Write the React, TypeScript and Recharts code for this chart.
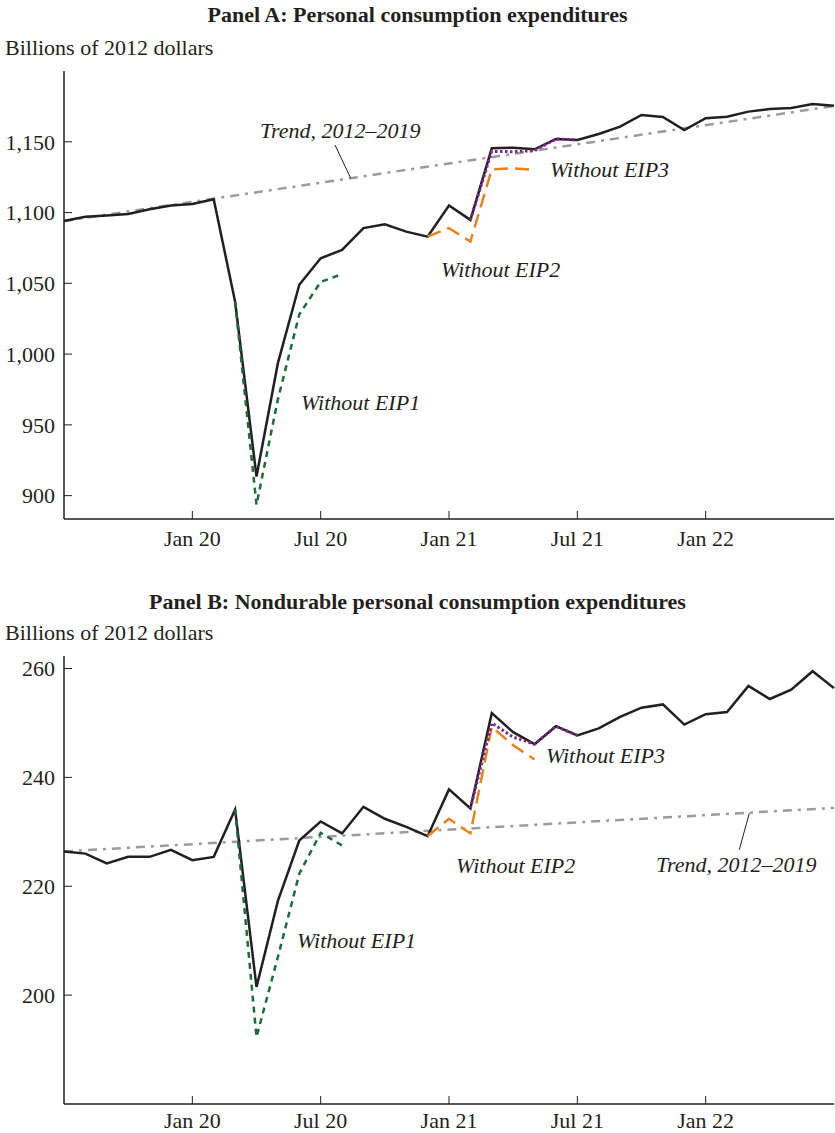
import {
  LineChart,
  Line,
  XAxis,
  YAxis,
  ReferenceLine,
  ReferenceDot,
} from "recharts";

// months run Jul 2019 (0) .. Jul 2022 (36)
const tickMonths = [6, 12, 18, 24, 30];
const tickLabels = ["Jan 20", "Jul 20", "Jan 21", "Jul 21", "Jan 22"];

// Panel A: personal consumption expenditures
const pceActual = [
  1094, 1097, 1098, 1099, 1102.3, 1105, 1106, 1109.4, 1037, 913.5, 993.6, 1049,
  1067.7, 1073.6, 1089, 1091.7, 1086.5, 1083, 1105, 1094.8, 1145.4, 1145.8,
  1144.7, 1152, 1151.3, 1155.5, 1160.7, 1168.9, 1167.5, 1158.3, 1166.6, 1167.7,
  1171.3, 1173.2, 1173.9, 1176.7, 1175.5,
];
const pceNoEip1 = [
  [8, 1037], [9, 893.5], [10, 968], [11, 1028], [12, 1051], [13, 1056.5],
];
const pceNoEip2 = [
  [17, 1083], [18, 1089], [19, 1079.5], [20, 1130.6], [21, 1131.3], [22, 1130],
];
const pceNoEip3 = [
  [19, 1094.8], [20, 1143.2], [21, 1143], [22, 1143.8], [23, 1152], [24, 1151.3],
];
const pceTrend = [
  [0, 1094], [36, 1175.3],
];
const pceTicks = [900, 950, 1000, 1050, 1100, 1150];

// Panel B: nondurable personal consumption expenditures
const ndActual = [
  226.4, 226.0, 224.2, 225.4, 225.4, 226.7, 224.8, 225.4, 234.1, 201.5, 217.3,
  228.4, 231.9, 229.7, 234.6, 232.4, 230.9, 229.2, 237.8, 234.3, 251.8, 248.3,
  246.1, 249.4, 247.7, 249.0, 251.1, 252.8, 253.4, 249.7, 251.6, 252.0, 256.8,
  254.4, 256.1, 259.5, 256.4,
];
const ndNoEip1 = [
  [8, 234.1], [9, 192.3], [10, 207], [11, 222.3], [12, 229.8], [13, 227.5],
];
const ndNoEip2 = [
  [17, 229.2], [18, 232.4], [19, 229.7], [20, 249.3], [21, 245.9], [22, 243.3],
];
const ndNoEip3 = [
  [19, 234.3], [20, 250.0], [21, 247.4], [22, 246.1], [23, 249.4], [24, 247.7],
];
const ndTrend = [
  [0, 226.4], [36, 234.4],
];
const ndTicks = [200, 220, 240, 260];

const FONT = '"Liberation Serif", "Times New Roman", serif';
const INK = "#231f20";

const buildRows = (actual, e1, e2, e3, trend) =>
  actual.map((v, i) => {
    const pick = (arr) => {
      const hit = arr.find((p) => p[0] === i);
      return hit ? hit[1] : null;
    };
    return {
      i,
      actual: v,
      noEip1: pick(e1),
      noEip2: pick(e2),
      noEip3: pick(e3),
      trend: pick(trend),
    };
  });

type Note = { text: string; x: number; y: number };
type Leader = [[number, number], [number, number]];

const Panel = ({ rows, domain, ticks, notes, leader, fmt, labelGap }) => (
  <LineChart
    width={835}
    height={580}
    data={rows}
    margin={{ top: 71, right: 1, left: 0, bottom: 0 }}
  >
    <XAxis
      xAxisId="b"
      dataKey="i"
      type="number"
      domain={[0, 36]}
      ticks={tickMonths}
      interval={0}
      tickFormatter={(v) => tickLabels[tickMonths.indexOf(v)]}
      height={61}
      tickSize={-8}
      tickMargin={labelGap}
      axisLine={{ stroke: INK, strokeWidth: 1.5 }}
      tickLine={{ stroke: INK, strokeWidth: 1 }}
      tick={{ fill: INK, fontSize: 22, fontFamily: FONT }}
    />
    <XAxis
      xAxisId="t"
      orientation="top"
      type="number"
      domain={[0, 36]}
      height={0}
      tick={false}
      tickLine={false}
      axisLine={{ stroke: INK, strokeWidth: 1.5 }}
    />
    <YAxis
      yAxisId="l"
      type="number"
      domain={domain}
      ticks={ticks}
      interval={0}
      allowDataOverflow
      width={64}
      tickSize={-8}
      tickMargin={17}
      tickFormatter={fmt}
      axisLine={{ stroke: INK, strokeWidth: 1.5 }}
      tickLine={{ stroke: INK, strokeWidth: 1 }}
      tick={{ fill: INK, fontSize: 22, fontFamily: FONT }}
    />
    <YAxis
      yAxisId="r"
      orientation="right"
      type="number"
      domain={domain}
      width={0}
      tick={false}
      tickLine={false}
      axisLine={{ stroke: INK, strokeWidth: 1.5 }}
    />
    <Line
      xAxisId="b"
      yAxisId="l"
      dataKey="trend"
      connectNulls
      stroke="#9b9b9b"
      strokeWidth={2.5}
      strokeDasharray="9 6 3 6"
      dot={false}
      isAnimationActive={false}
    />
    <Line
      xAxisId="b"
      yAxisId="l"
      dataKey="actual"
      stroke={INK}
      strokeWidth={2.5}
      dot={false}
      isAnimationActive={false}
    />
    <Line
      xAxisId="b"
      yAxisId="l"
      dataKey="noEip1"
      stroke="#1e6b3a"
      strokeWidth={2.5}
      strokeDasharray="6 5"
      dot={false}
      isAnimationActive={false}
    />
    <Line
      xAxisId="b"
      yAxisId="l"
      dataKey="noEip2"
      stroke="#e8821e"
      strokeWidth={2.5}
      strokeDasharray="14 7"
      dot={false}
      isAnimationActive={false}
    />
    <Line
      xAxisId="b"
      yAxisId="l"
      dataKey="noEip3"
      stroke="#7a2a8a"
      strokeWidth={3}
      strokeDasharray="2.5 2.5"
      dot={false}
      isAnimationActive={false}
    />
    <ReferenceLine
      xAxisId="b"
      yAxisId="l"
      segment={[
        { x: leader[0][0], y: leader[0][1] },
        { x: leader[1][0], y: leader[1][1] },
      ]}
      stroke={INK}
      strokeWidth={1}
    />
    {notes.map((n) => (
      <ReferenceDot
        key={n.text}
        xAxisId="b"
        yAxisId="l"
        x={n.x}
        y={n.y}
        r={0}
        fill="none"
        stroke="none"
        label={{
          value: n.text,
          position: "right",
          offset: 0,
          fill: INK,
          fontSize: 22,
          fontStyle: "italic",
          fontFamily: FONT,
        }}
      />
    ))}
  </LineChart>
);

const pceNotes: Note[] = [
  { text: "Trend, 2012–2019", x: 9.16, y: 1158.2 },
  { text: "Without EIP3", x: 22.72, y: 1130.6 },
  { text: "Without EIP2", x: 17.63, y: 1060 },
  { text: "Without EIP1", x: 11.08, y: 966 },
];
const pceLeader: Leader = [[12.67, 1147.7], [13.4, 1124.4]];

const ndNotes: Note[] = [
  { text: "Without EIP3", x: 22.53, y: 244.1 },
  { text: "Without EIP2", x: 18.33, y: 223.9 },
  { text: "Trend, 2012–2019", x: 27.68, y: 224.1 },
  { text: "Without EIP1", x: 10.89, y: 210.1 },
];
const ndLeader: Leader = [[32.04, 233.4], [31.57, 226.7]];

const titleStyle = {
  position: "absolute" as const,
  left: 0,
  width: 835,
  textAlign: "center" as const,
  fontFamily: FONT,
  fontWeight: "bold" as const,
  fontSize: 22,
  lineHeight: "22px",
  color: INK,
};
const unitStyle = {
  position: "absolute" as const,
  left: 5,
  fontFamily: FONT,
  fontSize: 22,
  lineHeight: "22px",
  color: INK,
};

export default function App() {
  return (
    <div style={{ position: "relative", width: 835, height: 1133, background: "#fff", overflow: "hidden" }}>
      <style>{"body{margin:0;}"}</style>
      <div style={{ ...titleStyle, top: 4 }}>Panel A: Personal consumption expenditures</div>
      <div style={{ ...unitStyle, top: 37 }}>Billions of 2012 dollars</div>
      <div style={{ position: "absolute", left: 0, top: 0 }}>
        <Panel
          rows={buildRows(pceActual, pceNoEip1, pceNoEip2, pceNoEip3, pceTrend)}
          domain={[883.5, 1200]}
          ticks={pceTicks}
          notes={pceNotes}
          leader={pceLeader}
          fmt={(v) => v.toLocaleString("en-US")}
          labelGap={19}
        />
      </div>
      <div style={{ ...titleStyle, top: 591 }}>Panel B: Nondurable personal consumption expenditures</div>
      <div style={{ ...unitStyle, top: 622 }}>Billions of 2012 dollars</div>
      <div style={{ position: "absolute", left: 0, top: 585 }}>
        <Panel
          rows={buildRows(ndActual, ndNoEip1, ndNoEip2, ndNoEip3, ndTrend)}
          domain={[180, 262.3]}
          ticks={ndTicks}
          notes={ndNotes}
          leader={ndLeader}
          fmt={(v) => String(v)}
          labelGap={16}
        />
      </div>
    </div>
  );
}
